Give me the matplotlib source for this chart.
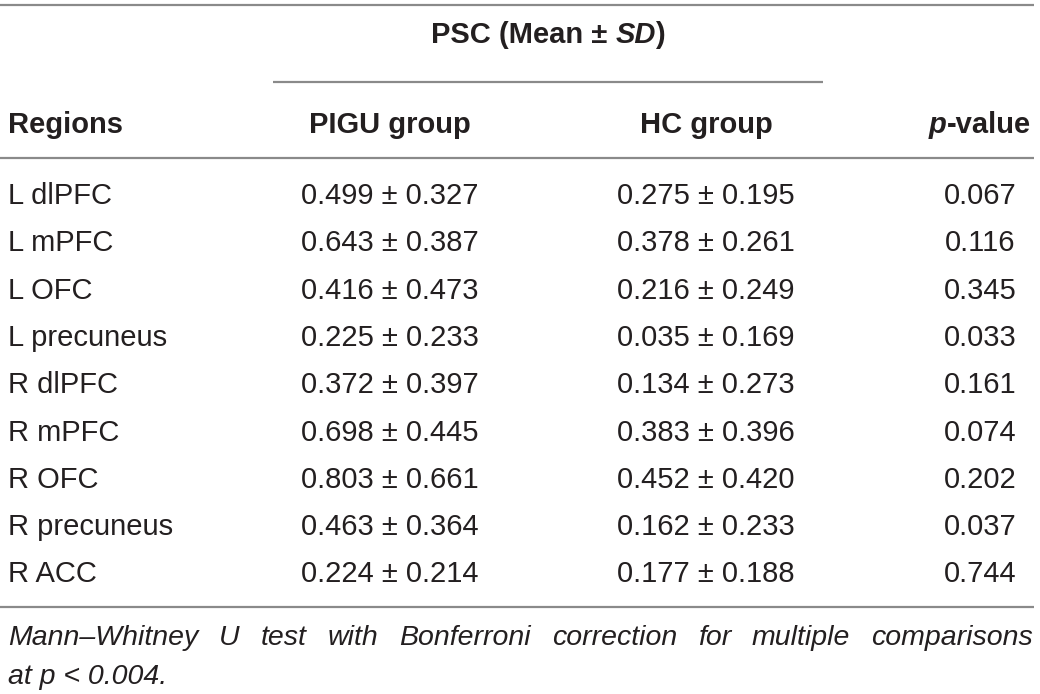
import matplotlib
matplotlib.use("Agg")
import matplotlib.pyplot as plt

# ---- data ----
regions = ["L dlPFC", "L mPFC", "L OFC", "L precuneus", "R dlPFC",
           "R mPFC", "R OFC", "R precuneus", "R ACC"]
pigu_mean = ["0.499", "0.643", "0.416", "0.225", "0.372", "0.698", "0.803", "0.463", "0.224"]
pigu_sd   = ["0.327", "0.387", "0.473", "0.233", "0.397", "0.445", "0.661", "0.364", "0.214"]
hc_mean   = ["0.275", "0.378", "0.216", "0.035", "0.134", "0.383", "0.452", "0.162", "0.177"]
hc_sd     = ["0.195", "0.261", "0.249", "0.169", "0.273", "0.396", "0.420", "0.233", "0.188"]
p_values  = ["0.067", "0.116", "0.345", "0.033", "0.161", "0.074", "0.202", "0.037", "0.744"]
col_headers = ["Regions", "PIGU group", "HC group"]
footnote_line1 = "Mann\u2013Whitney U test with Bonferroni correction for multiple comparisons"
footnote_line2 = "at p < 0.004."

W, H = 1040, 694
FONT = "Liberation Sans"
TXT = "#231f20"
LINE = "#8a8a8a"
FS = 21
HFS = 21

fig = plt.figure(figsize=(W / 100, H / 100), dpi=100)
ax = fig.add_axes([0, 0, 1, 1])
ax.set_xlim(0, W)
ax.set_ylim(H, 0)
ax.axis("off")
fig.canvas.draw()
r = fig.canvas.get_renderer()

def hline(y, x0, x1):
    ax.plot([x0, x1], [y, y], color=LINE, lw=1.6, solid_capstyle="butt")

hline(5, 0, 1034)
hline(82, 273, 823)
hline(158, 0, 1034)
hline(607, 0, 1034)

x_reg, x_pigu, x_hc, x_p = 8, 390, 706, 980

def width_of(s, **kw):
    t = ax.text(0, 0, s, **kw)
    w = t.get_window_extent(r).width
    t.remove()
    return w

# spanning header: "PSC (Mean ± SD)" with SD italic
bold = dict(fontsize=HFS, fontweight="bold", family=FONT, color=TXT, va="baseline")
parts = [("PSC (Mean \u00b1 ", "normal"), ("SD", "italic"), (")", "normal")]
ws = [width_of(p, style=s, **bold) for p, s in parts]
ws[1] -= 1
x = 548 - sum(ws) / 2
for (p, s), w in zip(parts, ws):
    ax.text(x, 43, p, style=s, ha="left", **bold)
    x += w

hy = 133
ax.text(x_reg, hy, col_headers[0], ha="left", **bold)
ax.text(x_pigu, hy, col_headers[1], ha="center", **bold)
ax.text(x_hc, hy, col_headers[2], ha="center", **bold)
wp = width_of("p", style="italic", **bold)
wv = width_of("-value", **bold)
xs = x_p - (wp + wv) / 2
ax.text(xs, hy, "p", style="italic", ha="left", **bold)
ax.text(xs + wp, hy, "-value", ha="left", **bold)

# body rows
norm = dict(fontsize=FS, family=FONT, color=TXT, va="baseline")
y0, dy = 204, 47.3
for i, reg in enumerate(regions):
    y = y0 + i * dy
    ax.text(x_reg, y, reg, ha="left", **norm)
    ax.text(x_pigu, y, f"{pigu_mean[i]} \u00b1 {pigu_sd[i]}", ha="center", **norm)
    ax.text(x_hc, y, f"{hc_mean[i]} \u00b1 {hc_sd[i]}", ha="center", **norm)
    ax.text(x_p, y, p_values[i], ha="center", **norm)

# footnote, justified first line
FFS = 20.5
ital = dict(fontsize=FFS, style="italic", family=FONT, color=TXT, va="baseline")
words = footnote_line1.split(" ")
widths = [width_of(w, **ital) for w in words]
left, right = 8, 1033
gap = (right - left - sum(widths)) / (len(words) - 1)
x = left
for w, wd in zip(words, widths):
    ax.text(x, 645, w, ha="left", **ital)
    x += wd + gap
ax.text(left, 684, footnote_line2, ha="left", **ital)

fig.savefig("out.png", dpi=100)
